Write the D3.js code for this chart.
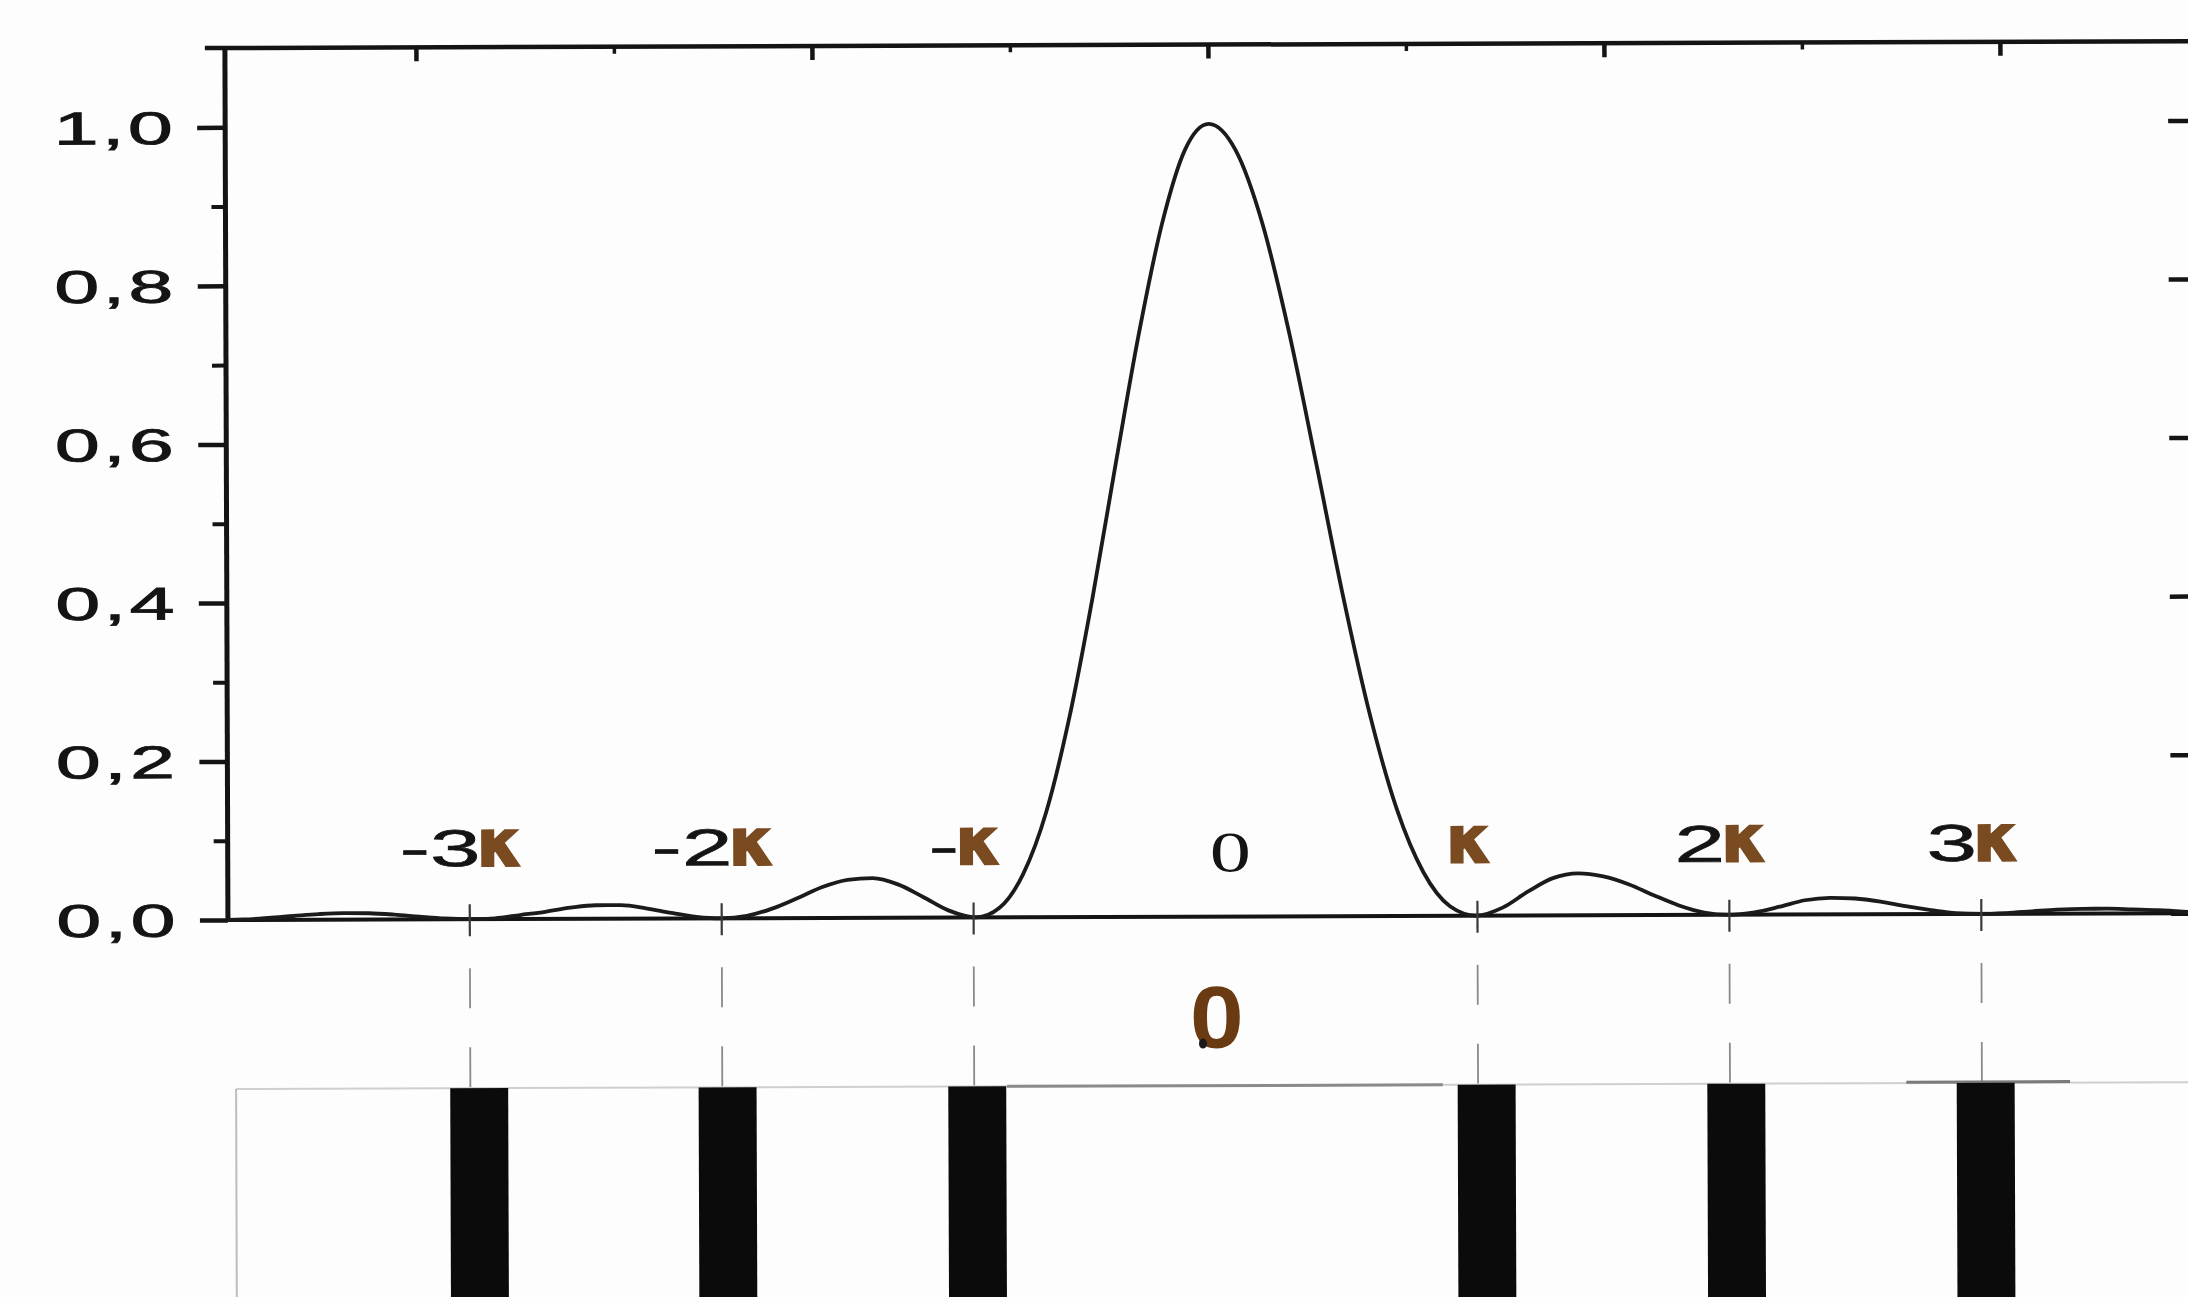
<!DOCTYPE html>
<html>
<head>
<meta charset="utf-8">
<script src="https://cdn.jsdelivr.net/npm/d3@7"></script>
<style>
  html, body { margin: 0; padding: 0; background: #fdfdfd; }
  svg { display: block; }
</style>
</head>
<body>
<svg id="chart" width="2188" height="1297"></svg>
<script>
// Single-slit diffraction: relative intensity versus position (in units of κ),
// with the matching grating of opaque strips drawn underneath.

// Intensity curve, position in κ units
const curveX = [
  -3.96, -3.9, -3.8, -3.7, -3.6, -3.5, -3.4, -3.3, -3.2, -3.1, -3.0,
  -2.9, -2.8, -2.7, -2.6, -2.5, -2.4, -2.3, -2.2, -2.1, -2.0,
  -1.9, -1.8, -1.7, -1.6, -1.5, -1.4, -1.3, -1.2, -1.1, -0.99,
  -0.897, -0.802, -0.71, -0.615, -0.524, -0.429, -0.337, -0.242, -0.151, -0.056,
  0.05, 0.155, 0.26, 0.365, 0.47, 0.575, 0.681, 0.786, 0.891, 0.996,
  1.1, 1.2, 1.3, 1.4, 1.5, 1.6, 1.7, 1.8, 1.9, 2.0,
  2.1, 2.2, 2.3, 2.4, 2.5, 2.6, 2.7, 2.8, 2.9, 3.0,
  3.1, 3.2, 3.3, 3.4, 3.5, 3.6, 3.7, 3.8, 3.84
];
const curveY = [
  0.0003, 0.0006, 0.0024, 0.0048, 0.0071, 0.0083, 0.0079, 0.0061, 0.0034, 0.001, 0.0,
  0.001, 0.005, 0.009, 0.014, 0.017, 0.017, 0.013, 0.007, 0.002, 0.0,
  0.003, 0.012, 0.025, 0.039, 0.048, 0.050, 0.042, 0.026, 0.009, 0.0,
  0.012, 0.055, 0.133, 0.255, 0.402, 0.573, 0.734, 0.875, 0.967, 1.0,
  0.967, 0.875, 0.737, 0.573, 0.405, 0.255, 0.135, 0.055, 0.012, 0.0,
  0.010, 0.030, 0.047, 0.053, 0.049, 0.039, 0.025, 0.012, 0.003, 0.0,
  0.003, 0.010, 0.018, 0.021, 0.020, 0.016, 0.010, 0.005, 0.001, 0.0,
  0.001, 0.003, 0.005, 0.006, 0.006, 0.005, 0.004, 0.002, 0.001
];

// Axis ticks
const yTicks = [0, 0.2, 0.4, 0.6, 0.8, 1.0];
const yMinorTicks = [0.1, 0.3, 0.5, 0.7, 0.9];
const topMajorTicks = [-10, -5, 0, 5, 10];
const topMinorTicks = [-7.5, -2.5, 2.5, 7.5];

// Minima markers (multiples of κ) and their labels
const kappaTicks = [-3, -2, -1, 1, 2, 3];
const kappaPrefix = ["-3", "-2", "-", "", "2", "3"];
const centreLabel = "0";

// Centres of the opaque strips of the grating, in κ units
const stripCentres = [-2.965, -1.979, -0.988, 1.034, 2.025, 3.015];

// ---------------------------------------------------------------
const W = 2188, H = 1297;
const plotLeft = 227, plotRight = 2192, plotTop = 45, plotBase = 917;
const ink = "#141414";
const brown = "#7a4a20";
const sans = "'Liberation Sans', Arial, Helvetica, sans-serif";
const SX = 1.75;            // wide lettering of the figure

const x = d3.scaleLinear().domain([-3.96, 3.84]).range([plotLeft, plotRight]);
const y = d3.scaleLinear().domain([0, 1.1]).range([plotBase, plotTop]);
const xTop = d3.scaleLinear().domain([-12.5, 12.5]).range([220, 2200]);

const svg = d3.select("#chart");
svg.append("rect").attr("width", W).attr("height", H).attr("fill", "#fdfdfd");

const root = svg.append("g").attr("transform", "rotate(-0.2, 1094, 650)");

// ---- frame -----------------------------------------------------
root.append("line")
  .attr("x1", 207).attr("x2", plotRight)
  .attr("y1", plotTop).attr("y2", plotTop)
  .attr("stroke", ink).attr("stroke-width", 4.5);

const clean = g => {
  g.select(".domain").remove();
  g.selectAll("text").remove();
  g.selectAll("line").attr("stroke", ink);
};

// top axis ticks (inward)
root.append("g").attr("transform", `translate(0,${plotTop})`)
  .call(d3.axisTop(xTop).tickValues(topMajorTicks).tickSize(-14))
  .call(clean).selectAll("line").attr("stroke-width", 4.5);
root.append("g").attr("transform", `translate(0,${plotTop})`)
  .call(d3.axisTop(xTop).tickValues(topMinorTicks).tickSize(-7))
  .call(clean).selectAll("line").attr("stroke-width", 3.5);

// left axis
root.append("line")
  .attr("x1", plotLeft).attr("x2", plotLeft)
  .attr("y1", plotTop - 2).attr("y2", plotBase)
  .attr("stroke", ink).attr("stroke-width", 5);
root.append("g").attr("transform", `translate(${plotLeft},0)`)
  .call(d3.axisLeft(y).tickValues(yTicks).tickSize(28))
  .call(clean).selectAll("line").attr("stroke-width", 4.5);
root.append("g").attr("transform", `translate(${plotLeft},0)`)
  .call(d3.axisLeft(y).tickValues(yMinorTicks).tickSize(14))
  .call(clean).selectAll("line").attr("stroke-width", 4);

// right axis ticks (inward)
root.append("g").attr("transform", `translate(${plotRight},0)`)
  .call(d3.axisRight(y).tickValues(yTicks).tickSize(-22))
  .call(clean).selectAll("line").attr("stroke-width", 4.5);

// baseline
root.append("line")
  .attr("x1", plotLeft).attr("x2", plotRight + 4)
  .attr("y1", y(0)).attr("y2", y(0))
  .attr("stroke", ink).attr("stroke-width", 4);

// y tick labels with decimal comma
const fmt = d3.formatLocale({ decimal: ",", thousands: ".", grouping: [3], currency: ["", ""] }).format(".1f");
yTicks.forEach(v => {
  root.append("text")
    .attr("transform", `translate(178,${y(v) + 16.5}) scale(${SX},1)`)
    .attr("text-anchor", "end")
    .attr("font-family", sans)
    .attr("font-size", 46)
    .attr("letter-spacing", 2)
    .attr("fill", ink)
    .attr("stroke", ink)
    .attr("stroke-width", 0.9)
    .text(fmt(v));
});

// ---- intensity curve ----------------------------------------------
root.append("defs").append("clipPath").attr("id", "plotClip")
  .append("rect").attr("x", plotLeft).attr("y", plotTop)
  .attr("width", plotRight - plotLeft).attr("height", plotBase - plotTop + 4);

const line = d3.line()
  .x(d => x(d[0]))
  .y(d => y(d[1]))
  .curve(d3.curveMonotoneX);

root.append("path")
  .datum(d3.zip(curveX, curveY))
  .attr("clip-path", "url(#plotClip)")
  .attr("d", line)
  .attr("fill", "none")
  .attr("stroke", "#1b1b1b")
  .attr("stroke-width", 3.8)
  .attr("stroke-linejoin", "round");

// ---- κ markers on the baseline ------------------------------------
root.selectAll("line.kmark").data(kappaTicks).join("line")
  .attr("class", "kmark")
  .attr("x1", d => x(d)).attr("x2", d => x(d))
  .attr("y1", plotBase - 15).attr("y2", plotBase + 17)
  .attr("stroke", "#3a3a3a").attr("stroke-width", 2.2);

// dashed guides from the baseline down to the grating
root.selectAll("line.guide").data(kappaTicks).join("line")
  .attr("class", "guide")
  .attr("x1", d => x(d)).attr("x2", d => x(d))
  .attr("y1", 966).attr("y2", 1086)
  .attr("stroke", "#8a8a8a").attr("stroke-width", 1.8)
  .attr("stroke-dasharray", "40 39");

// κ labels
const labelBase = 864;
kappaTicks.forEach((k, i) => {
  const g = root.append("g");
  let cursor = 0;
  const prefix = kappaPrefix[i];
  if (prefix) {
    const t = g.append("text")
      .attr("transform", `scale(${SX},1)`)
      .attr("font-family", sans)
      .attr("font-size", 52)
      .attr("fill", ink)
      .attr("stroke", ink)
      .attr("stroke-width", 0.6)
      .text(prefix);
    cursor = t.node().getComputedTextLength() * SX - 4;
  }
  const kt = g.append("text")
    .attr("x", cursor)
    .attr("font-family", "'DejaVu Sans', sans-serif")
    .attr("font-weight", "bold")
    .attr("font-size", 66)
    .attr("fill", brown)
    .attr("stroke", brown)
    .attr("stroke-width", 1.5)
    .text("κ");
  const w = cursor + kt.node().getComputedTextLength();
  g.attr("transform", `translate(${x(k) - 8 - w / 2},${labelBase})`);
});

// centre label
root.append("text")
  .attr("transform", `translate(${x(0) + 5},872) scale(1.45,1)`)
  .attr("text-anchor", "middle")
  .attr("font-family", "'Liberation Serif', 'Times New Roman', serif")
  .attr("font-size", 57)
  .attr("fill", ink)
  .text(centreLabel);

// ---- grating ------------------------------------------------------
const gratingTop = 1086;
root.append("line")
  .attr("x1", x(-3.93)).attr("x2", x(3.84))
  .attr("y1", gratingTop).attr("y2", gratingTop)
  .attr("stroke", "#cfcfcf").attr("stroke-width", 2);
root.append("line")
  .attr("x1", x(-0.87)).attr("x2", x(0.86))
  .attr("y1", gratingTop).attr("y2", gratingTop)
  .attr("stroke", "#8a8a8a").attr("stroke-width", 3);
root.append("line")
  .attr("x1", x(2.7)).attr("x2", x(3.35))
  .attr("y1", gratingTop - 1).attr("y2", gratingTop - 1)
  .attr("stroke", "#7a7a7a").attr("stroke-width", 3);
root.append("line")
  .attr("x1", x(-3.93)).attr("x2", x(-3.93))
  .attr("y1", gratingTop).attr("y2", H + 10)
  .attr("stroke", "#bdbdbd").attr("stroke-width", 2);

const stripW = x(0.23) - x(0);
root.selectAll("rect.strip").data(stripCentres).join("rect")
  .attr("class", "strip")
  .attr("x", d => x(d) - stripW / 2)
  .attr("y", gratingTop)
  .attr("width", stripW)
  .attr("height", H - gratingTop + 20)
  .attr("fill", "#0b0b0b");

// centre mark of the grating
root.append("text")
  .attr("transform", `translate(${x(0) - 9},1048) scale(1.1,1)`)
  .attr("text-anchor", "middle")
  .attr("font-family", sans)
  .attr("font-weight", "bold")
  .attr("font-size", 88)
  .attr("fill", "#6a3a12")
  .text(centreLabel);
root.append("ellipse")
  .attr("cx", x(0) - 23).attr("cy", 1044)
  .attr("rx", 4).attr("ry", 5)
  .attr("fill", "#1a1a1a");
</script>
</body>
</html>
